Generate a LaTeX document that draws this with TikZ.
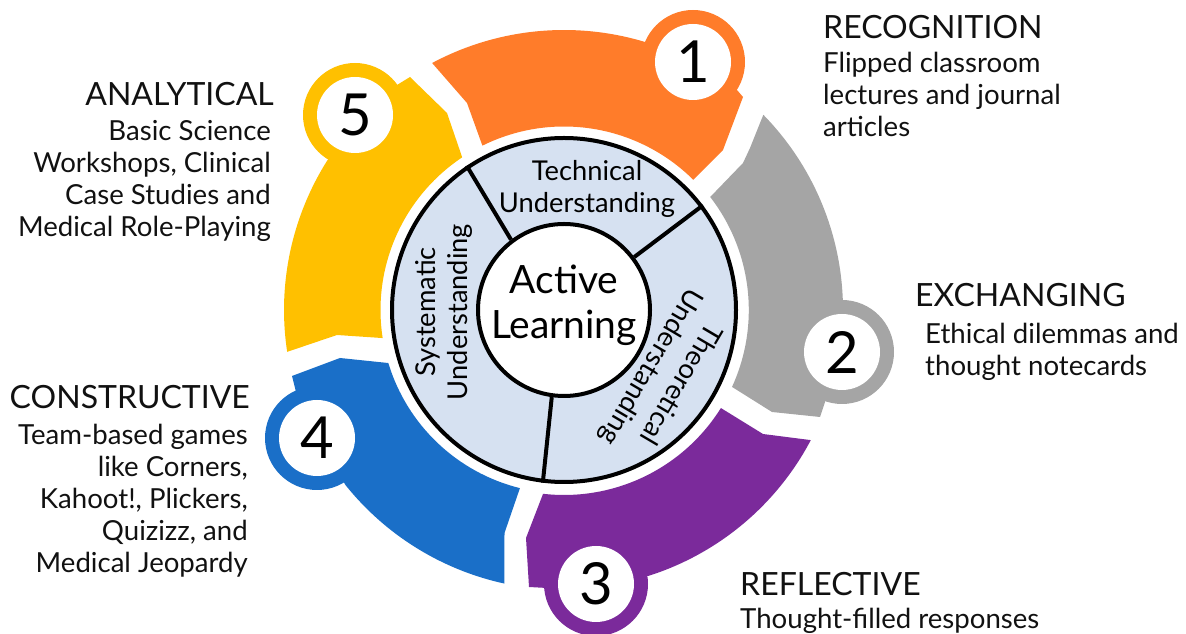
\documentclass[tikz,border=0pt]{standalone}
\usepackage{fontspec}
\setmainfont{Lato}
\definecolor{cOrange}{HTML}{FF7C2A}
\definecolor{cGray}{HTML}{A5A5A5}
\definecolor{cPurple}{HTML}{7B2A9B}
\definecolor{cBlue}{HTML}{1A6FC8}
\definecolor{cYellow}{HTML}{FFC000}
\definecolor{cWheel}{HTML}{D6E1F1}
\definecolor{cText}{HTML}{111111}
\tikzset{
  x=1pt,y=1pt,
  badge/.style={circle,draw=none,fill=white,minimum size=76pt,inner sep=0pt,text=black,font=\fontsize{58}{60}\selectfont},
  head/.style={text=cText,inner sep=0pt,font=\fontsize{32}{34}\selectfont},
  bodyL/.style={text=cText,inner sep=0pt,align=left,font=\fontsize{27.6}{32}\selectfont},
  bodyR/.style={text=cText,inner sep=0pt,align=right,font=\fontsize{27.6}{32}\selectfont},
  ringtxt/.style={text=black,inner sep=0pt,align=center,font=\fontsize{27.3}{32}\selectfont},
  spoke/.style={draw=black,line width=4pt},
}
\begin{document}
\begin{tikzpicture}
\useasboundingbox (0,0) rectangle (1186,634);
\coordinate (c) at (564,324);
% segments
\fill[cOrange] (693,572) circle[radius=52];
\fill[cOrange] ([shift={(118.1:280)}]c) arc[start angle=118.1,end angle=73.2,radius=280] -- (737,544) -- (743,537) -- (723,484) -- ([shift={(45.2:183.5)}]c) arc[start angle=45.2,end angle=116.4,radius=183.5] -- (467,531) -- cycle;
\fill[cGray] (842,282) circle[radius=52];
\fill[cGray] ([shift={(44.4:279)}]c) arc[start angle=44.4,end angle=2.06,radius=279] -- (825,232) -- (820,217) -- (772,222) -- ([shift={(-24.6:184.8)}]c) arc[start angle=-24.6,end angle=37.7,radius=184.8] -- (743,471) -- (750,486) -- cycle;
\fill[cPurple] (596,50) circle[radius=52];
\fill[cPurple] ([shift={(-27.8:279)}]c) arc[start angle=-27.8,end angle=-72.3,radius=279] -- (547,46) -- (529,47) -- (526,96) -- ([shift={(-96.5:185)}]c) arc[start angle=-96.5,end angle=-32,radius=185] -- (763,200) -- cycle;
\fill[cBlue] (317,196) circle[radius=52];
\fill[cBlue] ([shift={(218.6:280)}]c) arc[start angle=218.6,end angle=257.7,radius=280] -- (504.5,101) -- ([shift={(256.1:183.5)}]c) arc[start angle=256.1,end angle=196.8,radius=183.5] -- (340,276) -- (292,258) -- (296,242) -- cycle;
\fill[cYellow] (355,519) circle[radius=52];
\fill[cYellow] ([shift={(147.6:280)}]c) arc[start angle=147.6,end angle=188.6,radius=280] -- (337,299) -- ([shift={(188.8:183.5)}]c) arc[start angle=188.8,end angle=123.7,radius=183.5] -- (447,521) -- (410,557) -- (397,549) -- cycle;
% badges
\node[badge] (n1) at (693,572) {1};
\node[badge] (n2) at (842,282) {2};
\node[badge] (n3) at (596,50) {3};
\node[badge] (n4) at (317,196) {4};
\node[badge] (n5) at (355,519) {5};
% wheel
\node[circle,fill=cWheel,draw=black,line width=4pt,minimum size=344pt,inner sep=0pt] (wheel) at (c) {};
\node[circle,fill=white,draw=black,line width=4pt,minimum size=172pt,inner sep=0pt] (hub) at (c) {};
\node[text=black,inner sep=0pt,align=center,font=\fontsize{39}{45}\selectfont] (hubt) at (564,329) {Active\\Learning};
\draw[spoke] (hub.127) -- (wheel.124.5);
\draw[spoke] (hub.37.8) -- (wheel.37.5);
\draw[spoke] (hub.262) -- (wheel.263.5);
\node[ringtxt] (t1) at (587,445) {Technical\\Understanding};
\node[ringtxt,rotate=-120.5,font=\fontsize{27.3}{34}\selectfont] (t2) at (665,259) {Theoretical\\Understanding};
\node[ringtxt,rotate=90] (t3) at (444,322) {Systematic\\Understanding};
% texts
\node[head,anchor=west] (h1) at (823,607) {RECOGNITION};
\node[bodyL,anchor=north west] (b1) at (823,582) {Flipped classroom\\lectures and journal\\articles};
\node[head,anchor=west] (h2) at (915,339) {EXCHANGING};
\node[bodyL,anchor=north west] (b2) at (925,311) {Ethical dilemmas and\\thought notecards};
\node[head,anchor=west] (h3) at (740,50) {REFLECTIVE};
\node[bodyL,anchor=north west] (b3) at (740,26) {Thought-filled responses};
\node[head,anchor=east] (h4) at (250,237) {CONSTRUCTIVE};
\node[bodyR,anchor=north east] (b4) at (248,210) {Team-based games\\like Corners,\\Kahoot!, Plickers,\\Quizizz, and\\Medical Jeopardy};
\node[head,anchor=east] (h5) at (274,540) {ANALYTICAL};
\node[bodyR,anchor=north east] (b5) at (271,514) {Basic Science\\Workshops, Clinical\\Case Studies and\\Medical Role-Playing};
\end{tikzpicture}
\end{document}
